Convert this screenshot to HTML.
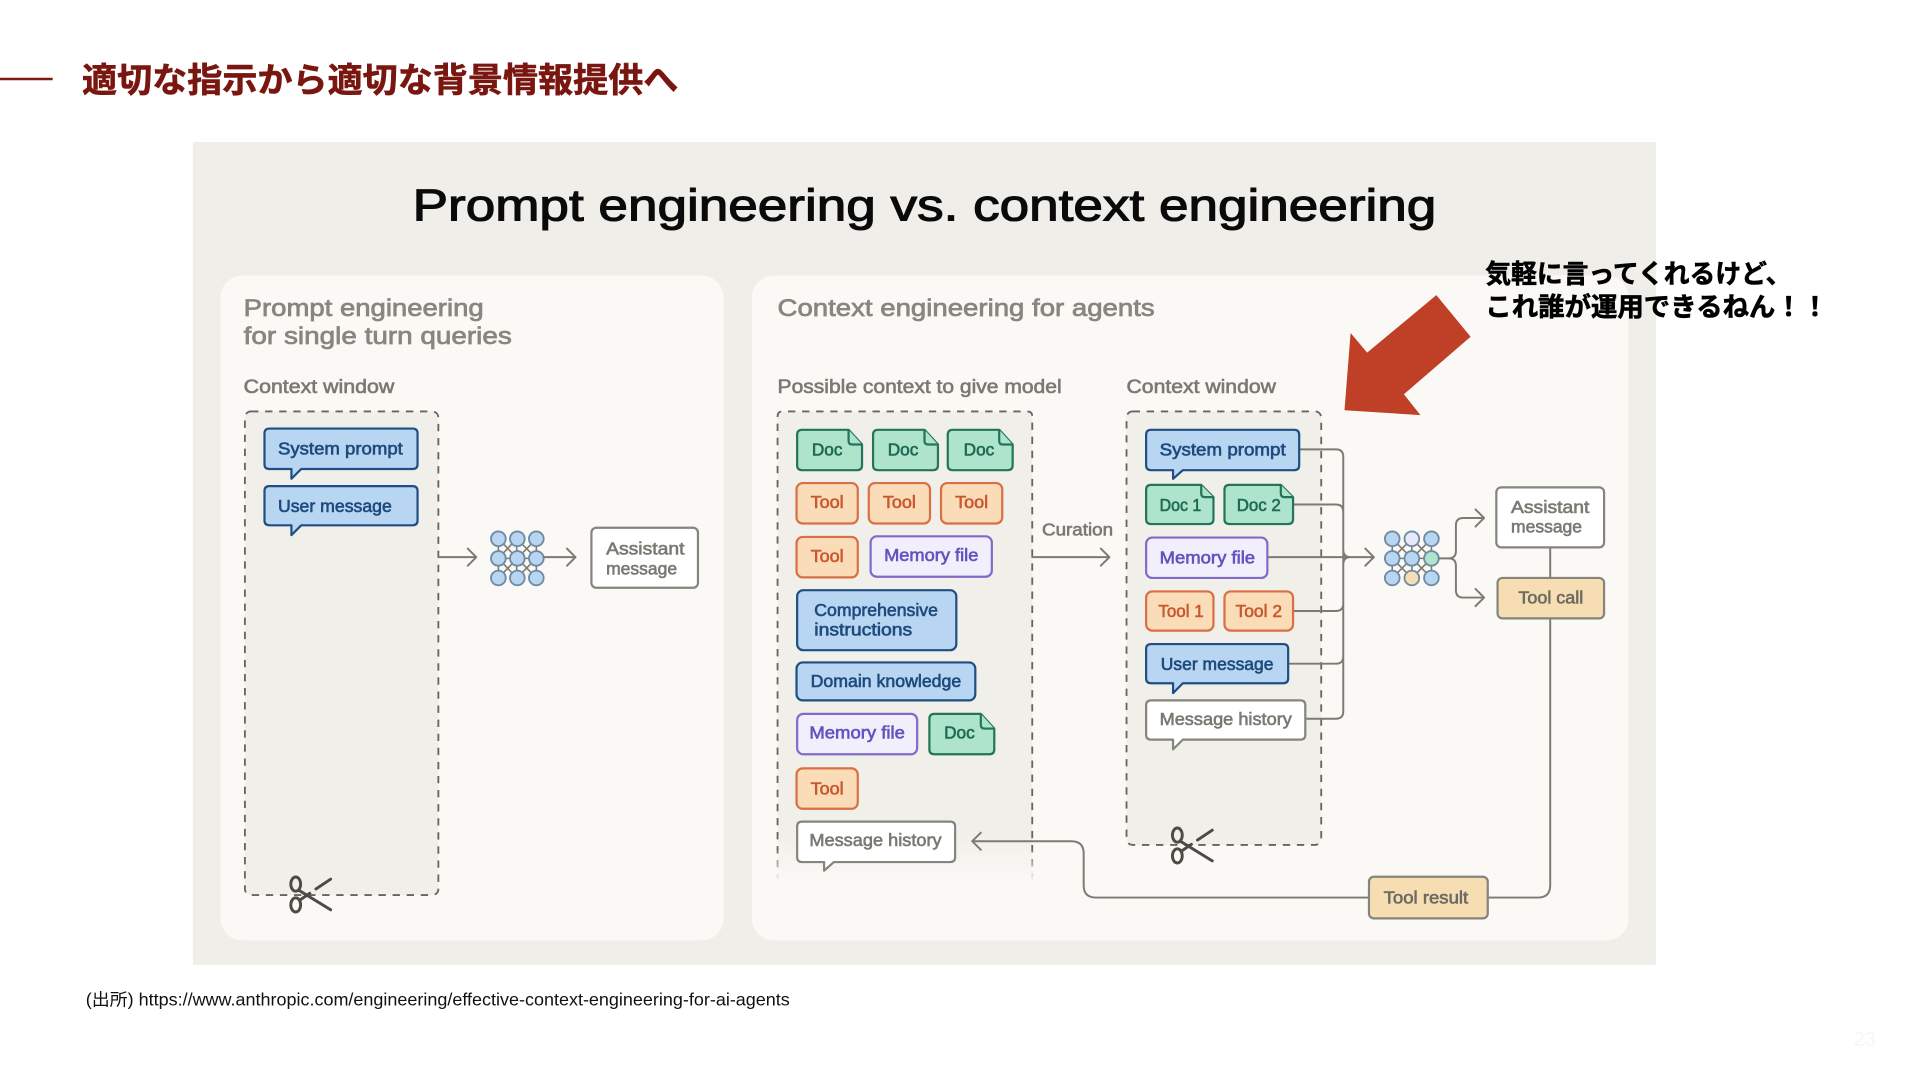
<!DOCTYPE html>
<html lang="ja"><head><meta charset="utf-8"><title>適切な指示から適切な背景情報提供へ</title>
<style>
html,body{margin:0;padding:0;background:#fff;width:1920px;height:1080px;overflow:hidden}
svg{display:block}
text{font-family:"Liberation Sans","Noto Sans CJK JP",sans-serif}
.l{font-size:14px;font-weight:400;stroke-width:.5px}
.b{fill:#b8d5f2;stroke:#1f4f82;stroke-width:1.8;stroke-linejoin:round}
.bt{fill:#1e4b7d;stroke:#1e4b7d}
.g{fill:#aee3cc;stroke:#23745a;stroke-width:1.8;stroke-linejoin:round}
.gt{fill:#1f6b52;stroke:#1f6b52}
.o{fill:#fbdcb9;stroke:#d96f42;stroke-width:1.8}
.ot{fill:#c9582e;stroke:#c9582e}
.p{fill:#f1effc;stroke:#7f6cc9;stroke-width:1.8}
.pt{fill:#6552bd;stroke:#6552bd}
.w{fill:#fff;stroke:#85847d;stroke-width:1.8;stroke-linejoin:round}
.wt{fill:#7a7972;stroke:#7a7972}
.y{fill:#f6deb2;stroke:#85847d;stroke-width:1.8}
.yt{fill:#6c6b64;stroke:#6c6b64}
.c{fill:none;stroke:#7b7a73;stroke-width:1.6;stroke-linejoin:round;stroke-linecap:round}
.d{fill:none;stroke:#66655f;stroke-width:1.5;stroke-dasharray:6 5.5}
.s{fill:none;stroke:#4c4b45;stroke-width:2.4;stroke-linecap:round}
.h{fill:#87867f;stroke:#87867f;stroke-width:.6px;font-size:20px;font-weight:400}
.sh{fill:#7a7972;stroke:#7a7972;stroke-width:.5px;font-size:15.5px;font-weight:400}
.n{stroke:#6f8ba3;stroke-width:1.5}
.nl{stroke:#7b7a73;stroke-width:1.3}
</style></head><body>
<svg width="1920" height="1080" viewBox="0 0 1568 882" xmlns="http://www.w3.org/2000/svg">
<defs>
<linearGradient id="fade" x1="0" y1="0" x2="0" y2="1"><stop offset="0.9" stop-color="#f1efea"/><stop offset="1" stop-color="#faf9f5"/></linearGradient>
<linearGradient id="fadeS" x1="0" y1="0" x2="0" y2="1"><stop offset="0.93" stop-color="#66655f"/><stop offset="1" stop-color="#66655f" stop-opacity="0"/></linearGradient>
</defs>

<line x1="0" y1="64.5" x2="43" y2="64.5" stroke="#7a1a12" stroke-width="2"/>
<text x="67" y="75" font-size="28" font-weight="700" fill="#7a1610" stroke="#7a1610" stroke-width=".5" textLength="487" lengthAdjust="spacingAndGlyphs">適切な指示から適切な背景情報提供へ</text>

<rect x="157.5" y="116" width="1195" height="672" fill="#f0eee9"/>
<text x="337" y="180" font-size="36" font-weight="400" fill="#0a0a0a" stroke="#0a0a0a" stroke-width=".9" textLength="836" lengthAdjust="spacingAndGlyphs">Prompt engineering vs. context engineering</text>

<rect x="180" y="225" width="411" height="543" rx="18" fill="#faf9f5"/>
<rect x="614" y="225" width="716" height="543" rx="18" fill="#faf9f5"/>

<text class="h" x="199" y="258" textLength="196" lengthAdjust="spacingAndGlyphs">Prompt engineering</text>
<text class="h" x="199" y="281" textLength="219" lengthAdjust="spacingAndGlyphs">for single turn queries</text>
<text class="sh" x="199" y="321" textLength="123" lengthAdjust="spacingAndGlyphs">Context window</text>
<text class="h" x="635" y="258" textLength="308" lengthAdjust="spacingAndGlyphs">Context engineering for agents</text>
<text class="sh" x="635" y="321" textLength="232" lengthAdjust="spacingAndGlyphs">Possible context to give model</text>
<text class="sh" x="920" y="321" textLength="122" lengthAdjust="spacingAndGlyphs">Context window</text>

<!-- dashed boxes -->
<rect x="200" y="336" width="158" height="395" rx="5" fill="#f1efea"/>
<rect x="200" y="336" width="158" height="395" rx="5" class="d"/>
<rect x="635" y="336" width="208" height="384" fill="url(#fade)"/>
<path d="M635 720V340q0-4 4-4H839q4 0 4 4V720" fill="none" stroke="url(#fadeS)" stroke-width="1.5" stroke-dasharray="6 5.5"/>
<rect x="920" y="336" width="159" height="354" rx="5" fill="#f1efea"/>
<rect x="920" y="336" width="159" height="354" rx="5" class="d"/>

<!-- left column -->
<path class="b" d="M220 350H337q4 0 4 4V379q0 4-4 4H246L238 391V383H220q-4 0-4-4V354q0-4 4-4Z"/>
<text class="l bt" x="227" y="371" textLength="102" lengthAdjust="spacingAndGlyphs">System prompt</text>
<path class="b" d="M220 397H337q4 0 4 4V425q0 4-4 4H246L238 437V429H220q-4 0-4-4V401q0-4 4-4Z"/>
<text class="l bt" x="227" y="418" textLength="93" lengthAdjust="spacingAndGlyphs">User message</text>

<path class="c" d="M358 455H389M382 448l7 7-7 7"/>
<g class="nl"><path d="M407 440L438 472M407 456L422 440L438 456L422 472ZM407 472L438 440M407 440V472M422 440V472M438 440V472M407 456H438" fill="none"/></g>
<g class="n" fill="#b8d5f2"><circle cx="407" cy="440" r="6"/><circle cx="422.500" cy="440" r="6"/><circle cx="438" cy="440" r="6"/><circle cx="407" cy="456" r="6"/><circle cx="422.500" cy="456" r="6"/><circle cx="438" cy="456" r="6"/><circle cx="407" cy="472" r="6"/><circle cx="422.500" cy="472" r="6"/><circle cx="438" cy="472" r="6"/></g>
<path class="c" d="M444 455H470M463 448l7 7-7 7"/>
<rect class="w" x="483" y="431" width="87" height="49" rx="4"/>
<text class="l wt" x="495" y="453" textLength="64" lengthAdjust="spacingAndGlyphs">Assistant</text>
<text class="l wt" x="495" y="469" textLength="58" lengthAdjust="spacingAndGlyphs">message</text>

<g>
<ellipse class="s" cx="241.500" cy="722" rx="4" ry="5.800"/><ellipse class="s" cx="241.500" cy="739" rx="4" ry="5.800"/>
<path class="s" d="M244 727L270 743M245 735L253 729.500M258 726L270 718"/>
</g>

<!-- possible context -->
<path class="g" d="M655 351H693L704 363V380q0 4-4 4H655q-4 0-4-4V355q0-4 4-4Z"/><path class="g" d="M693 351V360q0 3 3 3H704" fill="none"/>
<text class="l gt" x="663" y="372" textLength="25" lengthAdjust="spacingAndGlyphs">Doc</text>
<path class="g" d="M717 351H755L766 363V380q0 4-4 4H717q-4 0-4-4V355q0-4 4-4Z"/><path class="g" d="M755 351V360q0 3 3 3H766" fill="none"/>
<text class="l gt" x="725" y="372" textLength="25" lengthAdjust="spacingAndGlyphs">Doc</text>
<path class="g" d="M778 351H816L827 363V380q0 4-4 4H778q-4 0-4-4V355q0-4 4-4Z"/><path class="g" d="M816 351V360q0 3 3 3H827" fill="none"/>
<text class="l gt" x="787" y="372" textLength="25" lengthAdjust="spacingAndGlyphs">Doc</text>

<rect class="o" x="650.500" y="394.500" width="50" height="33" rx="5"/><text class="l ot" x="662" y="415" textLength="27" lengthAdjust="spacingAndGlyphs">Tool</text>
<rect class="o" x="709.500" y="394.500" width="50" height="33" rx="5"/><text class="l ot" x="721" y="415" textLength="27" lengthAdjust="spacingAndGlyphs">Tool</text>
<rect class="o" x="768.500" y="394.500" width="50" height="33" rx="5"/><text class="l ot" x="780" y="415" textLength="27" lengthAdjust="spacingAndGlyphs">Tool</text>

<rect class="o" x="650.500" y="438.500" width="50" height="33" rx="5"/><text class="l ot" x="662" y="459" textLength="27" lengthAdjust="spacingAndGlyphs">Tool</text>
<rect class="p" x="711" y="438" width="99" height="33" rx="5"/><text class="l pt" x="722" y="458" textLength="77" lengthAdjust="spacingAndGlyphs">Memory file</text>

<rect class="b" x="651" y="482" width="130" height="49" rx="5"/>
<text class="l bt" x="665" y="503" textLength="101" lengthAdjust="spacingAndGlyphs">Comprehensive</text>
<text class="l bt" x="665" y="519" textLength="80" lengthAdjust="spacingAndGlyphs">instructions</text>
<rect class="b" x="650.500" y="541" width="146" height="31" rx="5"/>
<text class="l bt" x="662" y="561" textLength="123" lengthAdjust="spacingAndGlyphs">Domain knowledge</text>
<rect class="p" x="651" y="583" width="98" height="33" rx="5"/><text class="l pt" x="661" y="603" textLength="78" lengthAdjust="spacingAndGlyphs">Memory file</text>
<path class="g" d="M763 583H801L812 595V612q0 4-4 4H763q-4 0-4-4V587q0-4 4-4Z"/><path class="g" d="M801 583V592q0 3 3 3H812" fill="none"/>
<text class="l gt" x="771" y="603" textLength="25" lengthAdjust="spacingAndGlyphs">Doc</text>
<rect class="o" x="650.500" y="627.500" width="50" height="33" rx="5"/><text class="l ot" x="662" y="649" textLength="27" lengthAdjust="spacingAndGlyphs">Tool</text>
<path class="w" d="M655 671H776q4 0 4 4V700q0 4-4 4H681L673 711V704H655q-4 0-4-4V675q0-4 4-4Z"/>
<text class="l wt" x="661" y="691" textLength="108" lengthAdjust="spacingAndGlyphs">Message history</text>

<text class="l wt" x="851" y="437.500" textLength="58" lengthAdjust="spacingAndGlyphs">Curation</text>
<path class="c" d="M843 455H906M899 448l7 7-7 7"/>

<!-- connectors right -->
<path class="c" d="M1061 367H1091q6 0 6 6V581q0 6-6 6H1066M1056 412H1091q6 0 6 6V449q0 6 6 6q-6 0-6 6V493q0 6-6 6H1056M1052 542H1091q6 0 6-6V490M1035 455H1122M1115 448l7 7-7 7"/>

<!-- context window -->
<path class="b" d="M940 351H1057q4 0 4 4V380q0 4-4 4H966L958 391V384H940q-4 0-4-4V355q0-4 4-4Z"/>
<text class="l bt" x="947" y="372" textLength="103" lengthAdjust="spacingAndGlyphs">System prompt</text>
<path class="g" d="M940 396H981L991 406V424q0 4-4 4H940q-4 0-4-4V400q0-4 4-4Z"/><path class="g" d="M981 396V403q0 3 3 3H991" fill="none"/>
<text class="l gt" x="947" y="417.500" textLength="34" lengthAdjust="spacingAndGlyphs">Doc 1</text>
<path class="g" d="M1004 396H1046L1056 406V424q0 4-4 4H1004q-4 0-4-4V400q0-4 4-4Z"/><path class="g" d="M1046 396V403q0 3 3 3H1056" fill="none"/>
<text class="l gt" x="1010" y="417.500" textLength="36" lengthAdjust="spacingAndGlyphs">Doc 2</text>
<rect class="p" x="936" y="439" width="99" height="33" rx="5"/><text class="l pt" x="947" y="460" textLength="78" lengthAdjust="spacingAndGlyphs">Memory file</text>
<rect class="o" x="936" y="483" width="55" height="32" rx="5"/><text class="l ot" x="946" y="504" textLength="37" lengthAdjust="spacingAndGlyphs">Tool 1</text>
<rect class="o" x="1000" y="483" width="56" height="32" rx="5"/><text class="l ot" x="1009" y="504" textLength="38" lengthAdjust="spacingAndGlyphs">Tool 2</text>
<path class="b" d="M940 526H1048q4 0 4 4V554q0 4-4 4H966L958 566V558H940q-4 0-4-4V530q0-4 4-4Z"/>
<text class="l bt" x="948" y="547" textLength="92" lengthAdjust="spacingAndGlyphs">User message</text>
<path class="w" d="M940 572H1062q4 0 4 4V600q0 4-4 4H966L958 612V604H940q-4 0-4-4V576q0-4 4-4Z"/>
<text class="l wt" x="947" y="592" textLength="108" lengthAdjust="spacingAndGlyphs">Message history</text>

<g>
<ellipse class="s" cx="961.500" cy="682" rx="4" ry="5.800"/><ellipse class="s" cx="961.500" cy="699" rx="4" ry="5.800"/>
<path class="s" d="M964 687L990 703M965 695L973 689.500M978 686L990 678"/>
</g>

<!-- net 2 -->
<g class="nl"><path d="M1137 440L1169 472M1137 456L1153 440L1169 456L1153 472ZM1137 472L1169 440M1137 440V472M1153 440V472M1169 440V472M1137 456H1169" fill="none"/></g>
<g class="n"><circle cx="1137" cy="440" r="6" fill="#b8d5f2"/><circle cx="1153" cy="440" r="6" fill="#e6eaf8"/><circle cx="1169" cy="440" r="6" fill="#b8d5f2"/><circle cx="1137" cy="456" r="6" fill="#b8d5f2"/><circle cx="1153" cy="456" r="6" fill="#b8d5f2"/><circle cx="1169" cy="456" r="6" fill="#aee3cc"/><circle cx="1137" cy="472" r="6" fill="#b8d5f2"/><circle cx="1153" cy="472" r="6" fill="#f6deb2"/><circle cx="1169" cy="472" r="6" fill="#b8d5f2"/></g>

<path class="c" d="M1175 456H1183q6 0 6-6V429q0-6 6-6H1212M1205 416l7 7-7 7M1183 456q6 0 6 6V482q0 6 6 6H1212M1205 481l7 7-7 7"/>
<path class="c" d="M1266 447V472M1266 505V723q0 10-10 10H1215M1118 733H895q-10 0-10-10V697q0-10-10-10H794M801 680l-7 7 7 7"/>

<rect class="w" x="1222" y="398" width="88" height="49" rx="4"/>
<text class="l wt" x="1234" y="419" textLength="64" lengthAdjust="spacingAndGlyphs">Assistant</text>
<text class="l wt" x="1234" y="435" textLength="58" lengthAdjust="spacingAndGlyphs">message</text>
<rect class="y" x="1223" y="472" width="87" height="33" rx="4"/>
<text class="l yt" x="1240" y="493" textLength="53" lengthAdjust="spacingAndGlyphs">Tool call</text>
<rect class="y" x="1118" y="716" width="97" height="34" rx="4"/>
<text class="l yt" x="1130" y="738" textLength="69" lengthAdjust="spacingAndGlyphs">Tool result</text>

<!-- red arrow + annotation -->
<polygon points="1173,241 1201,275 1146.500,322 1160,339 1098,335 1103,272 1116.500,288" fill="#bf3f27"/>
<text x="1213" y="231" font-size="21.500" font-weight="700" fill="#000" stroke="#000" stroke-width=".5" textLength="250" lengthAdjust="spacingAndGlyphs">気軽に言ってくれるけど、</text>
<text x="1213" y="258" font-size="21.500" font-weight="700" fill="#000" stroke="#000" stroke-width=".5" textLength="280" lengthAdjust="spacingAndGlyphs">これ誰が運用できるねん！！</text>

<text x="70" y="821" font-size="14" fill="#111" textLength="575" lengthAdjust="spacingAndGlyphs">(出所) https://www.anthropic.com/engineering/effective-context-engineering-for-ai-agents</text>
<text x="1514" y="854" font-size="16" fill="#f6f6f6">23</text>
</svg>
</body></html>
